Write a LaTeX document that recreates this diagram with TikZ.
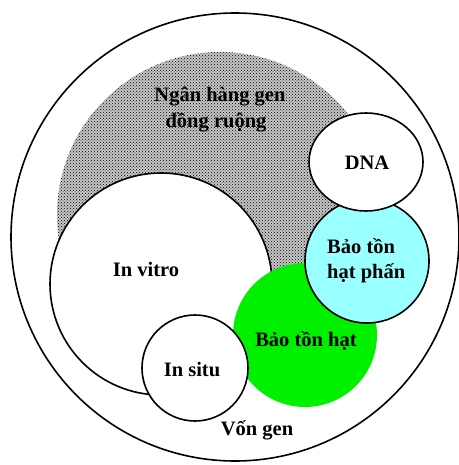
\documentclass[tikz,border=0pt]{standalone}
\usepackage{fontspec}
\setmainfont{Liberation Serif}
\usetikzlibrary{patterns}
\definecolor{pollen}{RGB}{153,255,255}
\definecolor{seed}{RGB}{0,240,0}
\begin{document}
\begin{tikzpicture}[x=1pt,y=-1pt,
  ring/.style={draw=black,line width=1.6pt},
  lbl/.style={font=\fontsize{20.5}{23}\selectfont\bfseries,align=center,inner sep=0pt},
  lbll/.style={font=\fontsize{20.5}{25}\selectfont\bfseries,align=left,inner sep=0pt}]
\useasboundingbox (0,0) rectangle (458,465);
\fill[white] (0,0) rectangle (458,465);
% outer gene pool
\draw[ring] (235,237) circle[radius=224];
% field gene bank (stippled)
\fill[gray!45] (220,215) circle[radius=163];
\fill[pattern=crosshatch dots,pattern color=black] (220,215) circle[radius=163];
% in vitro
\draw[ring,fill=white] (161,284) circle[radius=111];
% green seed conservation
\fill[seed] (305,335) circle[radius=72];
% in situ
\draw[ring,fill=white] (195,368) circle[radius=53];
% pollen (cyan)
\draw[ring,fill=pollen] (367,261) circle[radius=62];
% DNA
\draw[ring,fill=white] (366,162) ellipse[x radius=57,y radius=49];
% labels
\node[lbl] (ngh) at (220,97) {Ngân hàng gen};
\node[lbl] (dr) at (216,122) {đồng ruộng};
\node[lbl] (dna) at (367,163) {DNA};
\node[lbll,anchor=west] (ph) at (327,261) {Bảo tồn\\hạt phấn};
\node[lbl] (iv) at (146,269) {In vitro};
\node[lbl] (is) at (192,370) {In situ};
\node[lbl] (bt) at (306,341) {Bảo tồn hạt};
\node[lbl] (vg) at (257,430) {Vốn gen};
\end{tikzpicture}
\end{document}
